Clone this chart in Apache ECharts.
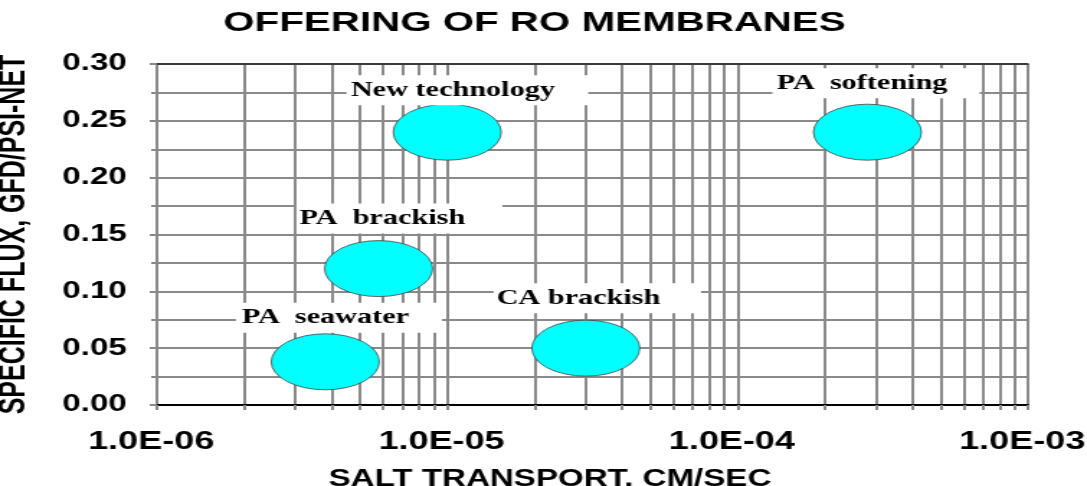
<!DOCTYPE html>
<html>
<head>
<meta charset="utf-8">
<script src="https://cdn.jsdelivr.net/npm/echarts@6/dist/echarts.min.js"></script>
<style>
  html, body { margin: 0; padding: 0; background: #fff; overflow: hidden; }
  #wrap { width: 755px; height: 486px; transform: scaleX(1.4397); transform-origin: 0 0; }
  #chart { width: 755px; height: 486px; }
</style>
</head>
<body>
<div id="wrap"><div id="chart"></div></div>
<script>
// ---- data ----
const categories = ['New technology', 'PA  softening', 'PA  brackish', 'PA  seawater', 'CA brackish'];
const saltTransport = [1.0e-5, 2.8e-4, 5.8e-6, 3.8e-6, 3.0e-5];   // cm/sec
const specificFlux  = [0.24, 0.24, 0.12, 0.038, 0.05];           // gfd/psi-net
const xDecades = [1e-6, 1e-5, 1e-4, 1e-3];
const xTickLabels = ['1.0E-06', '1.0E-05', '1.0E-04', '1.0E-03'];
const xMinorMultipliers = [1, 2, 3, 4, 5, 6, 7, 8, 9];
const yTickLabels = ['0.00', '0.05', '0.10', '0.15', '0.20', '0.25', '0.30'];

// ---- layout (unscaled px) ----
const labelOffsets = [[-70, -42], [-66, -49], [-57, -50], [-62, -44], [-64, -50]];
const labelBoxW = [168, 144, 143, 143, 144];
const labelPadL = [3, 3, 2, 4, 2];

const xTicks = [];
xDecades.slice(0, 3).forEach(d => xMinorMultipliers.forEach(m => xTicks.push(+(d * m).toPrecision(3))));
xTicks.push(xDecades[3]);

const GRID = '#8a8a8a';
const sans = '"Liberation Sans", Arial, sans-serif';
const serif = '"Liberation Serif", "Times New Roman", serif';

const points = categories.map((c, i) => ({
  name: c,
  value: [saltTransport[i], specificFlux[i]],
  label: {
    offset: labelOffsets[i],
    width: labelBoxW[i] - labelPadL[i],
    padding: [5, 0, 5, labelPadL[i]]
  }
}));

const chart = echarts.init(document.getElementById('chart'), null, { renderer: 'canvas' });
chart.setOption({
  backgroundColor: '#ffffff',
  animation: false,
  title: {
    text: 'OFFERING OF RO MEMBRANES',
    left: 150, top: 4,
    textStyle: { fontFamily: sans, fontWeight: 'bold', fontSize: 28, color: '#000' }
  },
  grid: { left: 109, right: 41, top: 64, bottom: 81, containLabel: false, outerBoundsMode: 'none' },
  xAxis: [{
    type: 'log', logBase: 10, min: 1e-6, max: 1e-3,
    position: 'bottom',
    name: 'SALT TRANSPORT, CM/SEC',
    nameLocation: 'middle', nameGap: 63,
    nameTextStyle: { fontFamily: sans, fontWeight: 'bold', fontSize: 23, color: '#000', padding: [0, 59, 0, 0] },
    axisLine: { show: true, lineStyle: { color: '#000', width: 2 } },
    axisTick: { show: true, customValues: xTicks, length: 5, lineStyle: { color: GRID, width: 2 } },
    axisLabel: {
      customValues: xDecades, margin: 25, padding: [0, 8, 0, 0],
      fontFamily: sans, fontWeight: 'bold', fontSize: 25, color: '#000',
      formatter: v => xTickLabels[Math.round(Math.log10(v)) + 6]
    },
    splitLine: { show: true, lineStyle: { color: GRID, width: 2 } },
    minorTick: { show: false }, minorSplitLine: { show: false }
  }, {
    type: 'log', logBase: 10, min: 1e-6, max: 1e-3,
    position: 'top',
    axisLine: { show: true, lineStyle: { color: '#222', width: 1.5 } },
    axisTick: { show: false }, axisLabel: { show: false }, splitLine: { show: false }
  }],
  yAxis: {
    type: 'value', min: 0, max: 0.3, interval: 0.05,
    name: 'SPECIFIC FLUX, GFD/PSI-NET',
    nameLocation: 'middle', nameGap: 86, nameRotate: 90,
    nameTextStyle: { fontFamily: sans, fontWeight: 'bold', fontSize: 25, color: '#000' },
    axisLine: { show: true, lineStyle: { color: GRID, width: 2 } },
    axisTick: { show: true, length: 5, lineStyle: { color: GRID, width: 2 } },
    minorTick: { show: true, splitNumber: 2, length: 4, lineStyle: { color: GRID, width: 2 } },
    axisLabel: {
      margin: 21, fontFamily: sans, fontWeight: 'bold', fontSize: 23, color: '#000',
      formatter: v => yTickLabels[Math.round(v / 0.05)]
    },
    splitLine: { show: true, lineStyle: { color: GRID, width: 2 } },
    minorSplitLine: { show: true, lineStyle: { color: GRID, width: 2 } }
  },
  series: [{
    type: 'scatter',
    symbol: 'path://M0,50 A50,50 0 1,1 100,50 A50,50 0 1,1 0,50 Z',
    symbolSize: [75, 56],
    itemStyle: { color: '#00ffff', borderColor: '#444', borderWidth: 0.8, opacity: 1 },
    label: {
      show: true,
      position: 'inside',
      align: 'left', verticalAlign: 'middle',
      formatter: p => p.name,
      fontFamily: serif, fontWeight: 'bold', fontSize: 21, lineHeight: 20, color: '#000',
      backgroundColor: '#ffffff'
    },
    emphasis: { disabled: true },
    data: points,
    z: 3
  }]
});
</script>
</body>
</html>
